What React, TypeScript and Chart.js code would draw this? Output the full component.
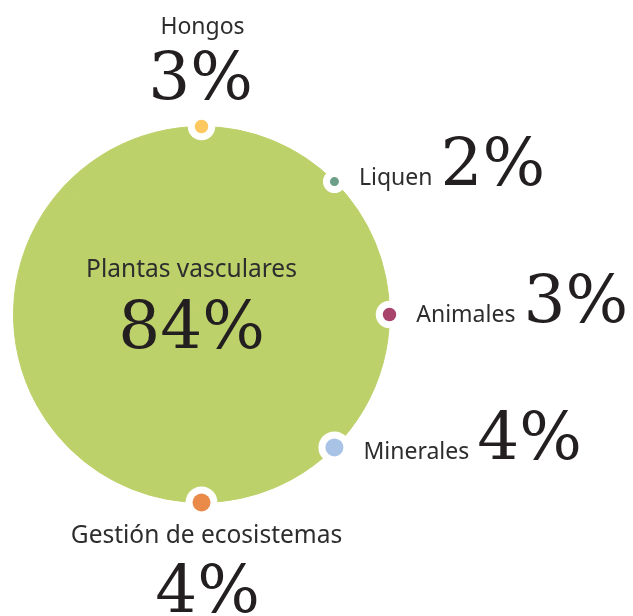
import { useEffect, useRef } from 'react';
import { Chart, registerables } from 'chart.js';

Chart.register(...registerables);

const categories = ['Plantas vasculares', 'Hongos', 'Liquen', 'Animales', 'Minerales', 'Gestión de ecosistemas'];
const values = [84, 3, 2, 3, 4, 4];
const dotColors = ['#bdd16a', '#fdc85f', '#6d9e89', '#a8436c', '#a9c3e7', '#e98a49'];

const CIRCLE_GREEN = '#bdd16a';
const LABEL_FONT = '23px "Noto Sans"';
const WIDE_LABEL_FONT = '24.5px "Noto Sans"';
const NUM_FONT = '66px "DejaVu Serif"';
const LABEL_COLOR = '#2d2d2d';
const NUM_COLOR = '#231f20';

const labelsPlugin = {
  id: 'satelliteLabels',
  afterDatasetsDraw(chart: any) {
    const arc = chart.getDatasetMeta(0).data[0] as any;
    if (!arc) return;
    const cx = arc.x;
    const cy = arc.y;
    const R = arc.outerRadius;
    const ctx: CanvasRenderingContext2D = chart.ctx;
    ctx.save();
    ctx.textBaseline = 'alphabetic';

    // centre label
    ctx.textAlign = 'center';
    ctx.font = WIDE_LABEL_FONT;
    ctx.fillStyle = LABEL_COLOR;
    ctx.fillText(categories[0], cx - 10, cy - 38);
    ctx.font = NUM_FONT;
    ctx.fillStyle = NUM_COLOR;
    ctx.fillText(values[0] + '%', cx - 10, cy + 33);

    const rightDy = [3, 7, 12];
    for (let i = 1; i < categories.length; i++) {
      const a = -Math.PI / 2 + (i - 1) * (Math.PI / 4);
      const x = cx + R * Math.cos(a);
      const y = cy + R * Math.sin(a);
      const r = values[i] * 2.25;
      ctx.beginPath();
      ctx.arc(x, y, r + 7, 0, Math.PI * 2);
      ctx.fillStyle = '#ffffff';
      ctx.fill();
      ctx.beginPath();
      ctx.arc(x, y, r, 0, Math.PI * 2);
      ctx.fillStyle = dotColors[i];
      ctx.fill();

      const label = categories[i];
      const num = values[i] + '%';
      if (i === 1) {
        ctx.textAlign = 'center';
        ctx.font = LABEL_FONT;
        ctx.fillStyle = LABEL_COLOR;
        ctx.fillText(label, x + 1, y - 93);
        ctx.font = NUM_FONT;
        ctx.fillStyle = NUM_COLOR;
        ctx.fillText(num, x - 1, y - 28);
      } else if (i === categories.length - 1) {
        ctx.textAlign = 'center';
        ctx.font = WIDE_LABEL_FONT;
        ctx.fillStyle = LABEL_COLOR;
        ctx.fillText(label, x + 5, y + 40);
        ctx.font = NUM_FONT;
        ctx.fillStyle = NUM_COLOR;
        ctx.fillText(num, x + 6, y + 109);
      } else {
        const dy = rightDy[i - 2];
        const lx = x + 20 + r;
        ctx.textAlign = 'left';
        ctx.font = LABEL_FONT;
        ctx.fillStyle = LABEL_COLOR;
        ctx.fillText(label, lx, y + dy);
        const w = ctx.measureText(label).width;
        ctx.font = NUM_FONT;
        ctx.fillStyle = NUM_COLOR;
        ctx.fillText(num, lx + w + 8, y + dy);
      }
    }
    ctx.restore();
  },
};

export default function App() {
  const ref = useRef<HTMLCanvasElement | null>(null);
  useEffect(() => {
    if (!ref.current) return;
    const chart = new Chart(ref.current, {
      type: 'pie',
      data: {
        labels: categories,
        datasets: [
          {
            data: values,
            backgroundColor: CIRCLE_GREEN,
            borderColor: CIRCLE_GREEN,
            borderWidth: 1,
            hoverOffset: 0,
            offset: 0,
          },
        ],
      },
      options: {
        animation: false,
        responsive: true,
        maintainAspectRatio: false,
        events: [],
        layout: { padding: { left: 5, top: 118, right: 243, bottom: 113 } },
        plugins: {
          legend: { display: false },
          tooltip: { enabled: false },
        },
      },
      plugins: [labelsPlugin],
    });
    return () => chart.destroy();
  }, []);
  return (
    <div style={{ width: 625, height: 608, position: 'relative' }}>
      <canvas ref={ref} />
    </div>
  );
}
